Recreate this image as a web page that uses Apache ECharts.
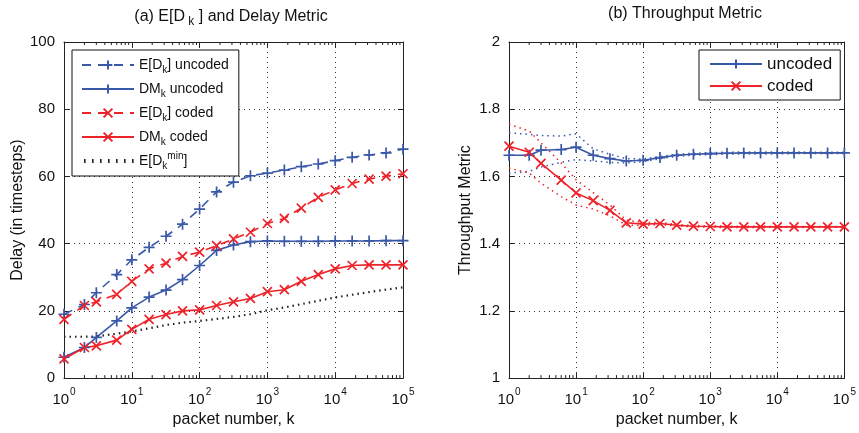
<!DOCTYPE html>
<html>
<head>
<meta charset="utf-8">
<script src="https://cdn.jsdelivr.net/npm/echarts@6/dist/echarts.min.js"></script>
<style>html,body{margin:0;padding:0;background:#fff}#c{width:859px;height:433px}</style>
</head>
<body>
<div id="c"></div>
<script>
// ---- data ----
const kVals = [1, 2, 3, 6, 10, 18, 32, 56, 100, 178, 316, 562, 1000, 1778, 3162, 5623, 10000, 17783, 31623, 56234, 100000];
const edUncoded = [19.0, 21.9, 25.4, 30.8, 35.2, 38.9, 42.2, 45.8, 50.3, 55.4, 58.3, 60.2, 61.0, 61.9, 62.9, 63.7, 64.7, 65.7, 66.4, 67.0, 68.1];
const dmUncoded = [6.2, 9.1, 12.1, 17.0, 20.9, 24.1, 26.2, 29.3, 33.5, 38.0, 39.6, 40.6, 40.8, 40.7, 40.7, 40.7, 40.8, 40.8, 40.8, 40.9, 40.9];
const edCoded = [17.5, 21.6, 22.7, 24.9, 28.8, 32.5, 34.2, 36.2, 37.5, 39.4, 41.4, 43.4, 46.0, 47.5, 50.6, 53.8, 56.0, 57.9, 59.2, 60.1, 60.8];
const dmCoded = [5.7, 9.1, 9.6, 11.3, 14.5, 17.5, 18.9, 20.0, 20.3, 21.6, 22.7, 23.7, 25.7, 26.3, 28.8, 30.8, 32.5, 33.5, 33.7, 33.7, 33.7];
const edMin = [12.3, 12.3, 12.4, 13.2, 13.9, 14.8, 15.8, 16.5, 17.0, 17.6, 18.2, 19.0, 20.2, 21.0, 22.0, 23.0, 24.0, 24.8, 25.6, 26.3, 27.0];

const thrUncoded = [1.663, 1.663, 1.678, 1.680, 1.687, 1.663, 1.653, 1.646, 1.648, 1.656, 1.663, 1.666, 1.668, 1.669, 1.670, 1.670, 1.670, 1.670, 1.670, 1.670, 1.670];
const thrUncodedHi = [1.730, 1.725, 1.722, 1.720, 1.727, 1.682, 1.666, 1.653, 1.652, 1.659, 1.666, 1.669, 1.671, 1.672, 1.673, 1.673, 1.673, 1.673, 1.672, 1.672, 1.672];
const thrUncodedLo = [1.610, 1.615, 1.628, 1.642, 1.650, 1.646, 1.642, 1.640, 1.644, 1.653, 1.660, 1.663, 1.665, 1.666, 1.667, 1.667, 1.667, 1.668, 1.668, 1.668, 1.668];
const thrCoded = [1.690, 1.672, 1.639, 1.589, 1.551, 1.528, 1.499, 1.462, 1.458, 1.460, 1.455, 1.452, 1.451, 1.450, 1.450, 1.450, 1.450, 1.450, 1.450, 1.450, 1.450];
const thrCodedHi = [1.755, 1.735, 1.700, 1.640, 1.590, 1.552, 1.515, 1.470, 1.463, 1.463, 1.457, 1.454, 1.453, 1.452, 1.452, 1.452, 1.451, 1.451, 1.451, 1.451, 1.451];
const thrCodedLo = [1.625, 1.610, 1.580, 1.540, 1.515, 1.503, 1.483, 1.455, 1.454, 1.457, 1.453, 1.450, 1.449, 1.448, 1.448, 1.448, 1.449, 1.449, 1.449, 1.449, 1.449];

const minorK = [];
[1, 10, 100, 1000, 10000].forEach(d => { for (let m = 2; m <= 9; m++) minorK.push(m * d); });

// ---- styles ----
const BLUE = '#3a58a8';
const RED = '#ee2229';
const FONT = '"Liberation Sans", Arial, sans-serif';
const PLUS = 'path://M0,5L10,5M5,0L5,10';
const CROSS = 'path://M1,1L9,9M9,1L1,9';
// legend icon for the dotted series: short vertical ticks inside a 52x11 box
let dotIcon = 'path://M0,0h0.01v0.01h-0.01z M52,11h-0.01v-0.01h0.01z';
for (let x = 2; x <= 50; x += 8) dotIcon += ' M' + x + ',3.5h1.6v4h-1.6z';

function pairs(ys) { return kVals.map((k, i) => [k, ys[i]]); }

const chart = echarts.init(document.getElementById('c'), null, { renderer: 'canvas' });

function logX(grid, pos, show) {
  return {
    type: 'log', logBase: 10, min: 1, max: 100000, gridIndex: grid, position: pos,
    axisLine: { show: true, onZero: false, lineStyle: { color: '#222', width: 1 } },
    axisTick: { show: true, inside: true, length: 5, lineStyle: { color: '#222' } },
    axisLabel: show ? {
      show: true, margin: 9, fontFamily: FONT, color: '#111',
      formatter: v => '{b|10}{e|' + Math.round(Math.log10(v)) + '}',
      rich: { b: { fontSize: 15, fontFamily: FONT, color: '#111', lineHeight: 20, verticalAlign: 'bottom' },
              e: { fontSize: 10, fontFamily: FONT, color: '#111', lineHeight: 20, verticalAlign: 'top', padding: [0, 0, 6, 1] } }
    } : { show: false },
    splitLine: show ? { show: true, lineStyle: { color: '#333', type: [1, 4], width: 1 } } : { show: false },
    name: show ? 'packet number, k' : '', nameLocation: 'middle', nameGap: 23,
    nameTextStyle: { fontSize: 16, fontFamily: FONT, color: '#111' }
  };
}
function valY(grid, pos, min, max, interval, show, name, gap, fmt) {
  return {
    type: 'value', gridIndex: grid, position: pos, min: min, max: max, interval: interval,
    axisLine: { show: true, onZero: false, lineStyle: { color: '#222', width: 1 } },
    axisTick: { show: true, inside: true, length: 5, lineStyle: { color: '#222' } },
    axisLabel: show ? { show: true, margin: 9, fontSize: 15, fontFamily: FONT, color: '#111', formatter: fmt } : { show: false },
    splitLine: show ? { show: true, lineStyle: { color: '#333', type: [1, 4], width: 1 } } : { show: false },
    name: show ? name : '', nameLocation: 'middle', nameGap: gap, nameRotate: 90,
    nameTextStyle: { fontSize: 16, fontFamily: FONT, color: '#111' }
  };
}

function minorTicks(xi, yi, ymin, ymax) {
  return {
    type: 'custom', xAxisIndex: xi, yAxisIndex: yi, silent: true, clip: false, z: 5,
    data: minorK.map(k => [k]),
    renderItem: (params, api) => {
      const k = api.value(0);
      const b = api.coord([k, ymin]);
      const t = api.coord([k, ymax]);
      const st = { stroke: '#222', lineWidth: 1 };
      return { type: 'group', children: [
        { type: 'line', shape: { x1: b[0], y1: b[1], x2: b[0], y2: b[1] - 3 }, style: st },
        { type: 'line', shape: { x1: t[0], y1: t[1], x2: t[0], y2: t[1] + 3 }, style: st }
      ] };
    }
  };
}

function lineSeries(name, ys, xi, yi, color, dash, symbol, width) {
  return {
    name: name, type: 'line', xAxisIndex: xi, yAxisIndex: yi, data: pairs(ys),
    symbol: symbol || 'none', symbolSize: symbol === CROSS ? 9 : 11, showSymbol: !!symbol,
    lineStyle: { color: color, width: width || 1.6, type: dash || 'solid' },
    itemStyle: { color: color, borderColor: color, borderWidth: 1.7 },
    z: 3, animation: false
  };
}

const legendMapA = {
  'EDu': 'E[D{sub|k}] uncoded',
  'DMu': 'DM{sub|k} uncoded',
  'EDc': 'E[D{sub|k}] coded',
  'DMc': 'DM{sub|k} coded',
  'EDmin': 'E[D{sub|k}{sup|min}]'
};
const richLeg = {
  sub: { fontSize: 10, fontFamily: FONT, color: '#111', lineHeight: 20, verticalAlign: 'bottom' },
  sup: { fontSize: 10, fontFamily: FONT, color: '#111', lineHeight: 20, verticalAlign: 'top' }
};

const option = {
  backgroundColor: '#fff',
  animation: false,
  title: [
    { text: '(a) E[D{sub| k} ] and Delay Metric', left: 226, top: 1, textAlign: 'center',
      textStyle: { fontSize: 16, fontWeight: 'normal', fontFamily: FONT, color: '#111',
        rich: { sub: { fontSize: 12, fontFamily: FONT, color: '#111', lineHeight: 22, verticalAlign: 'bottom' } } } },
    { text: '(b) Throughput Metric', left: 680, top: 1, textAlign: 'center',
      textStyle: { fontSize: 16, fontWeight: 'normal', fontFamily: FONT, color: '#111' } }
  ],
  grid: [
    { left: 64, right: 456, top: 42, bottom: 52 },
    { left: 509, right: 9, top: 42, bottom: 52 }
  ],
  legend: [
    { data: ['EDu', 'DMu', 'EDc', 'DMc', { name: 'EDmin', icon: dotIcon, itemStyle: { color: '#222', borderWidth: 0 } }],
      orient: 'vertical', left: 72, top: 50,
      itemWidth: 52, itemHeight: 11, itemGap: 4, itemTextGap: 6, selectedMode: false,
      backgroundColor: '#fff', borderColor: '#111', borderWidth: 1, padding: [5, 10, 5, 9],
      formatter: n => legendMapA[n],
      textStyle: { fontSize: 14, fontFamily: FONT, color: '#111', lineHeight: 20, rich: richLeg } },
    { data: ['uncoded', 'coded'], orient: 'vertical', left: 699, top: 50,
      itemWidth: 52, itemHeight: 11, itemGap: 2, itemTextGap: 6, selectedMode: false,
      backgroundColor: '#fff', borderColor: '#111', borderWidth: 1, padding: [4, 8, 4, 10],
      textStyle: { fontSize: 17, fontFamily: FONT, color: '#111', lineHeight: 20 } }
  ],
  xAxis: [ logX(0, 'bottom', true), logX(0, 'top', false), logX(1, 'bottom', true), logX(1, 'top', false) ],
  yAxis: [
    valY(0, 'left', 0, 100, 20, true, 'Delay (in timesteps)', 38, v => String(v)),
    valY(0, 'right', 0, 100, 20, false),
    valY(1, 'left', 1, 2, 0.2, true, 'Throughput Metric', 35, v => (Math.abs(v - Math.round(v)) < 1e-9 ? String(Math.round(v)) : v.toFixed(1))),
    valY(1, 'right', 1, 2, 0.2, false)
  ],
  series: [
    lineSeries('EDu', edUncoded, 0, 0, BLUE, [9, 7], PLUS),
    lineSeries('DMu', dmUncoded, 0, 0, BLUE, 'solid', PLUS),
    lineSeries('EDc', edCoded, 0, 0, RED, [9, 7], CROSS),
    lineSeries('DMc', dmCoded, 0, 0, RED, 'solid', CROSS),
    lineSeries('EDmin', edMin, 0, 0, '#222', [1.5, 4], null, 2.2),
    lineSeries('uncodedHi', thrUncodedHi, 2, 2, BLUE, [1.5, 4], null, 1.5),
    lineSeries('uncodedLo', thrUncodedLo, 2, 2, BLUE, [1.5, 4], null, 1.5),
    lineSeries('codedHi', thrCodedHi, 2, 2, RED, [1.5, 4], null, 1.5),
    lineSeries('codedLo', thrCodedLo, 2, 2, RED, [1.5, 4], null, 1.5),
    lineSeries('uncoded', thrUncoded, 2, 2, BLUE, 'solid', PLUS),
    lineSeries('coded', thrCoded, 2, 2, RED, 'solid', CROSS),
    minorTicks(0, 0, 0, 100),
    minorTicks(2, 2, 1, 2)
  ]
};
chart.setOption(option);
</script>
</body>
</html>
